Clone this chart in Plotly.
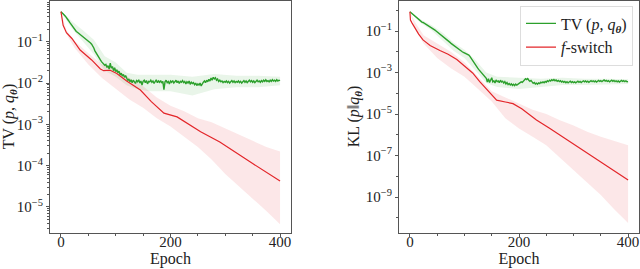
import plotly.graph_objects as go
import numpy as np

# ---------------- data (log10 values) ----------------
green_epochs = list(range(0, 401, 2))

tv_green_log = [
    -0.27, -0.29, -0.31, -0.35, -0.38, -0.41, -0.45, -0.49, -0.53, -0.57, -0.61,
    -0.65, -0.69, -0.72, -0.75, -0.77, -0.79, -0.81, -0.83, -0.85, -0.87,
    -0.89, -0.91, -0.93, -0.95, -0.98, -1.00, -1.03, -1.06, -1.10, -1.15,
    -1.22, -1.27, -1.31, -1.36, -1.40, -1.44, -1.48, -1.51, -1.54, -1.57,
    -1.55, -1.62, -1.58, -1.66, -1.52, -1.64, -1.60, -1.70, -1.63, -1.72,
    -1.68, -1.75, -1.71, -1.80, -1.76, -1.83, -1.79, -1.86, -1.82, -1.89,
    -1.94, -1.90, -1.97, -1.92, -1.99, -1.93, -1.96, -2.01, -1.94, -1.97,
    -1.92, -2.00, -1.95, -2.05, -1.96, -1.93, -1.99, -1.94, -2.02, -1.96,
    -1.97, -1.93, -1.98, -1.95, -2.01, -1.96, -1.92, -1.99, -1.95, -1.98,
    -1.94, -2.00, -1.96, -2.16, -1.97, -1.93, -1.99, -1.96, -2.02, -1.95,
    -1.98, -1.94, -2.00, -1.97, -1.93, -1.99, -1.95, -2.01, -1.96, -1.98,
    -1.94, -1.99, -1.96, -2.02, -1.97, -2.00, -1.95, -2.03, -1.98, -2.01,
    -1.99, -2.04, -2.00, -2.06, -2.02, -2.05, -2.00, -2.07, -2.01, -1.98,
    -1.95, -1.99, -1.93, -1.97, -1.91, -1.95, -1.88, -1.93, -1.86, -1.90,
    -1.87, -1.93, -1.90, -1.96, -1.93, -1.97, -1.95, -1.99, -1.96, -1.98,
    -1.95, -1.99, -1.96, -2.00, -1.97, -1.94, -1.98, -1.95, -1.99, -1.96,
    -1.98, -1.95, -1.99, -1.96, -2.00, -1.97, -1.94, -1.98, -1.95, -1.99,
    -1.96, -1.93, -1.97, -1.94, -1.98, -1.95, -1.99, -1.96, -1.93, -1.97,
    -1.95, -1.98, -1.94, -1.97, -1.93, -1.96, -1.92, -1.96, -1.94, -1.97,
    -1.93, -1.96, -1.92, -1.95, -1.93, -1.96, -1.92, -1.95, -1.93, -1.94,
]

kl_green_log = [
    -0.07, -0.12, -0.16, -0.21, -0.25, -0.30, -0.34, -0.39, -0.44, -0.48, -0.53,
    -0.57, -0.59, -0.62, -0.65, -0.69, -0.72, -0.75, -0.79, -0.82, -0.86,
    -0.89, -0.93, -0.96, -1.00, -1.04, -1.08, -1.13, -1.17, -1.21, -1.26,
    -1.30, -1.34, -1.38, -1.43, -1.47, -1.52, -1.56, -1.61, -1.65, -1.70,
    -1.74, -1.79, -1.83, -1.88, -1.92, -1.95, -1.97, -2.00, -2.03, -2.05,
    -2.08, -2.10, -2.13, -2.16, -2.22, -2.31, -2.40, -2.49, -2.58, -2.67,
    -2.72, -2.78, -2.85, -2.91, -2.97, -3.03, -3.10, -3.16, -3.22, -3.28,
    -3.46, -3.30, -3.48, -3.38, -3.25, -3.45, -3.40, -3.50, -3.36, -3.44,
    -3.41, -3.49, -3.37, -3.46, -3.42, -3.51, -3.44, -3.55, -3.48, -3.58,
    -3.53, -3.60, -3.55, -3.62, -3.57, -3.63, -3.56, -3.61, -3.58, -3.54,
    -3.50, -3.45, -3.48, -3.40, -3.36, -3.30, -3.34, -3.29, -3.37, -3.42,
    -3.38, -3.47, -3.52, -3.48, -3.55, -3.51, -3.56, -3.50, -3.53, -3.47,
    -3.50, -3.45, -3.49, -3.43, -3.47, -3.40, -3.44, -3.37, -3.41, -3.35,
    -3.39, -3.34, -3.40, -3.36, -3.42, -3.38, -3.44, -3.40, -3.46, -3.42,
    -3.47, -3.43, -3.49, -3.44, -3.50, -3.46, -3.42, -3.48, -3.44, -3.49,
    -3.45, -3.50, -3.46, -3.42, -3.47, -3.43, -3.48, -3.44, -3.40, -3.45,
    -3.41, -3.46, -3.42, -3.47, -3.43, -3.39, -3.44, -3.40, -3.45, -3.41,
    -3.46, -3.42, -3.38, -3.43, -3.39, -3.44, -3.40, -3.36, -3.41, -3.38,
    -3.43, -3.39, -3.45, -3.41, -3.37, -3.42, -3.38, -3.44, -3.40, -3.45,
    -3.41, -3.46, -3.42, -3.38, -3.43, -3.39, -3.44, -3.40, -3.45, -3.44,
]

band_green_epochs = [0, 20, 40, 60, 80, 100, 120, 140, 160, 200, 240, 280, 320, 360, 400]
tv_green_upper = [-0.25, -0.50, -0.72, -0.95, -1.35, -1.50, -1.75, -1.80, -1.80, -1.80, -1.85, -1.78, -1.82, -1.82, -1.85]
tv_green_lower = [-0.28, -0.68, -0.98, -1.30, -1.70, -1.85, -2.05, -2.15, -2.20, -2.20, -2.30, -2.15, -2.10, -2.10, -2.05]
kl_green_upper = [-0.05, -0.45, -0.72, -1.08, -1.55, -1.90, -2.40, -3.00, -3.20, -3.25, -3.30, -3.25, -3.30, -3.30, -3.32]
kl_green_lower = [-0.09, -0.62, -0.98, -1.45, -1.95, -2.30, -2.90, -3.50, -3.70, -3.80, -3.70, -3.60, -3.60, -3.58, -3.55]

tv_red_epochs = [0, 2, 4, 10, 20, 35, 56, 72, 78, 90, 102, 120, 145, 165, 188, 212, 230, 255, 290, 316, 350, 400]
tv_red_log = [-0.27, -0.45, -0.60, -0.78, -0.92, -1.20, -1.44, -1.66, -1.70, -1.69, -1.77, -1.95, -2.17, -2.45, -2.73, -2.82, -2.97, -3.18, -3.43, -3.66, -3.95, -4.37]

kl_red_epochs = [0, 1, 4, 9, 16, 24, 37, 55, 70, 86, 104, 115, 128, 144, 159, 175, 189, 205, 220, 232, 256, 300, 350, 400]
kl_red_log = [-0.07, -0.47, -0.62, -0.85, -1.15, -1.43, -1.70, -1.94, -2.12, -2.37, -2.77, -3.02, -3.44, -3.90, -4.33, -4.42, -4.50, -4.75, -5.05, -5.29, -5.69, -6.45, -7.30, -8.18]

band_red_epochs = [0, 10, 25, 50, 75, 100, 125, 150, 175, 200, 225, 250, 275, 300, 325, 350, 375, 400]
tv_red_upper = [-0.27, -0.72, -0.98, -1.28, -1.55, -1.65, -1.88, -2.08, -2.35, -2.55, -2.68, -2.85, -2.95, -3.10, -3.25, -3.40, -3.55, -3.66]
tv_red_lower = [-0.27, -0.82, -1.15, -1.55, -1.88, -2.15, -2.40, -2.60, -2.85, -3.05, -3.30, -3.55, -3.85, -4.20, -4.50, -4.80, -5.10, -5.42]
kl_red_upper = [-0.07, -0.60, -1.20, -1.60, -2.00, -2.50, -3.20, -3.90, -4.20, -4.50, -4.80, -5.00, -5.30, -5.55, -5.85, -6.10, -6.30, -6.50]
kl_red_lower = [-0.07, -0.90, -1.60, -2.30, -2.80, -3.20, -3.80, -4.40, -5.20, -5.70, -6.10, -6.50, -7.10, -7.70, -8.30, -8.90, -9.60, -10.25]

x_ticks = [0, 200, 400]
tv_tick_exps = [-1, -2, -3, -4, -5]
kl_tick_exps = [-1, -3, -5, -7, -9]

legend_names = ["TV (<i>p</i>, <i>q</i><sub><b><i>θ</i></b></sub>)", "<i>f</i>-switch"]

# ---------------- style ----------------
GREEN = "#2ca02c"
RED = "#e3262a"
GREEN_FILL = "rgba(44,160,44,0.10)"
RED_FILL = "rgba(227,38,42,0.11)"
FONT = "Liberation Serif"
FRAME = "#555555"
TXT = "#222222"


def pw(v):
    return [10 ** a for a in v]


fig = go.Figure()


def add_panel(xa, ya, g_log, g_up, g_lo, r_ep, r_log, r_up, r_lo, show_legend):
    fig.add_trace(go.Scatter(
        x=band_green_epochs + band_green_epochs[::-1],
        y=pw(g_up) + pw(g_lo)[::-1],
        fill="toself", fillcolor=GREEN_FILL, line=dict(width=0),
        mode="lines", showlegend=False, hoverinfo="skip", xaxis=xa, yaxis=ya))
    fig.add_trace(go.Scatter(
        x=band_red_epochs + band_red_epochs[::-1],
        y=pw(r_up) + pw(r_lo)[::-1],
        fill="toself", fillcolor=RED_FILL, line=dict(width=0),
        mode="lines", showlegend=False, hoverinfo="skip", xaxis=xa, yaxis=ya))
    fig.add_trace(go.Scatter(
        x=green_epochs, y=pw(g_log), mode="lines",
        line=dict(color=GREEN, width=1.4), name=legend_names[0],
        showlegend=show_legend, xaxis=xa, yaxis=ya))
    fig.add_trace(go.Scatter(
        x=r_ep, y=pw(r_log), mode="lines",
        line=dict(color=RED, width=1.2), name=legend_names[1],
        showlegend=show_legend, xaxis=xa, yaxis=ya))


add_panel("x", "y", tv_green_log, tv_green_upper, tv_green_lower,
          tv_red_epochs, tv_red_log, tv_red_upper, tv_red_lower, False)
add_panel("x2", "y2", kl_green_log, kl_green_upper, kl_green_lower,
          kl_red_epochs, kl_red_log, kl_red_upper, kl_red_lower, True)

W, H = 640, 269
y_dom = [1 - 232.5 / H, 1 - 0.5 / H]


def minor_vals(lo, hi):
    vals = []
    for d in range(lo, hi + 1):
        for m in range(2, 10):
            vals.append(m * 10 ** d)
    return vals


xaxis_common = dict(
    range=[-20, 420], tickvals=x_ticks, ticks="outside", ticklen=3, tickwidth=1,
    tickcolor=FRAME, showline=True, linecolor=FRAME, linewidth=1, mirror=True,
    showgrid=False, zeroline=False, automargin=False, ticklabelstandoff=-8,
    tickfont=dict(family=FONT, size=15, color=TXT),
    title=dict(text="Epoch", font=dict(family=FONT, size=16, color=TXT), standoff=4),
    minor=dict(ticks="outside", ticklen=2, tickcolor=FRAME, tickvals=[50, 100, 150, 250, 300, 350]),
)

yaxis_common = dict(
    type="log", ticks="outside", ticklen=3, tickwidth=1, tickcolor=FRAME,
    showline=True, linecolor=FRAME, linewidth=1, mirror=True,
    showgrid=False, zeroline=False, automargin=False,
    tickfont=dict(family=FONT, size=15, color=TXT),
)

fig.update_layout(
    width=W, height=H, margin=dict(l=0, r=0, t=0, b=0),
    paper_bgcolor="white", plot_bgcolor="white",
    xaxis=dict(domain=[50 / W, 291 / W], anchor="y", **xaxis_common),
    xaxis2=dict(domain=[399 / W, 639 / W], anchor="y2", **xaxis_common),
    yaxis=dict(domain=y_dom, anchor="x", range=[-5.62, 0.0],
               tickvals=[10 ** e for e in tv_tick_exps],
               ticktext=["10<sup>\u2212%d</sup>" % (-e) for e in tv_tick_exps],
               title=dict(text="TV (<i>p</i>, <i>q</i><sub><b><i>θ</i></b></sub>)",
                          font=dict(family=FONT, size=16, color=TXT), standoff=2),
               minor=dict(ticks="outside", ticklen=2, tickcolor=FRAME, tickvals=minor_vals(-6, -1)),
               **yaxis_common),
    yaxis2=dict(domain=y_dom, anchor="x2", range=[-10.71, 0.47],
                tickvals=[10 ** e for e in kl_tick_exps],
                ticktext=["10<sup>\u2212%d</sup>" % (-e) for e in kl_tick_exps],
                title=dict(text="KL (<i>p</i>\u2016<i>q</i><sub><b><i>θ</i></b></sub>)",
                           font=dict(family=FONT, size=16, color=TXT), standoff=2),
                minor=dict(ticks="outside", ticklen=2, tickcolor=FRAME,
                           tickvals=[10 ** e for e in range(-11, 1) if e not in kl_tick_exps]),
                **yaxis_common),
    legend=dict(x=633 / W, y=1 - 5.5 / H, xanchor="right", yanchor="top",
                bgcolor="white", bordercolor="#dddddd", borderwidth=1,
                font=dict(family=FONT, size=16, color=TXT),
                tracegroupgap=0, itemwidth=30),
    showlegend=True,
)

fig.write_html(
    "out.html",
    config={"displayModeBar": False},
    post_script="document.body.style.margin='0';document.body.style.overflow='hidden';",
)
